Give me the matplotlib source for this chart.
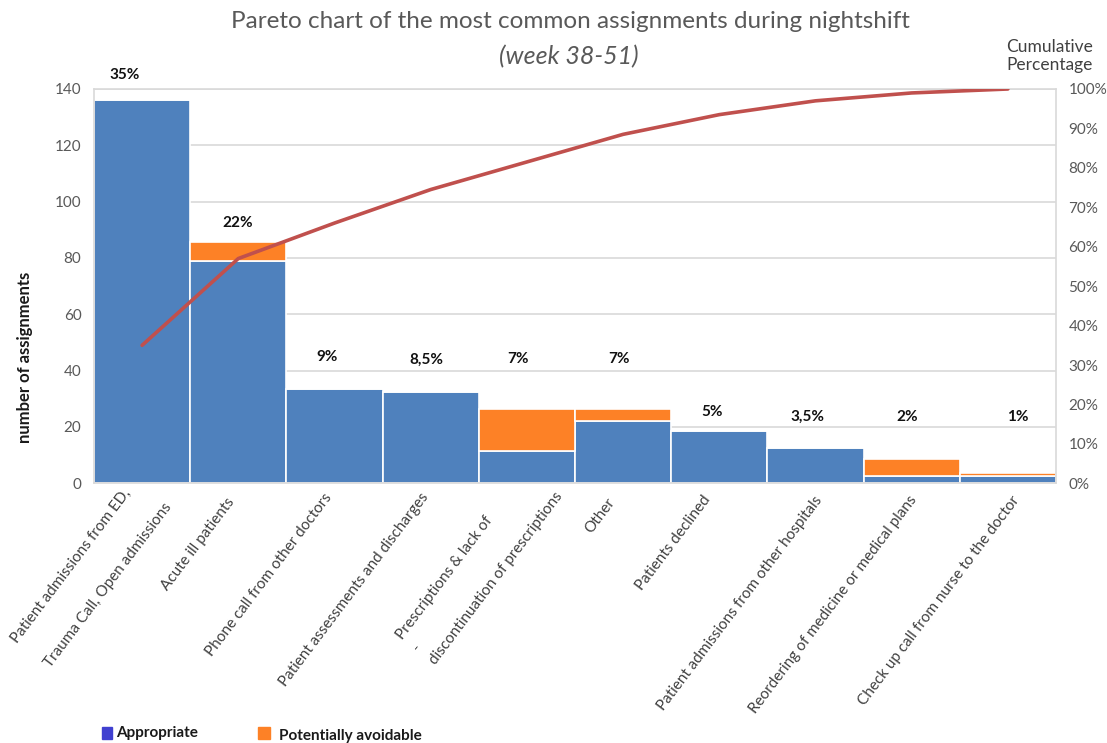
import numpy as np
import matplotlib
matplotlib.use("Agg")
import matplotlib.pyplot as plt
from matplotlib.patches import Rectangle

plt.rcParams['font.family'] = ['Lato', 'DejaVu Sans']

# data
categories = [
    "Patient admissions from ED,\n\nTrauma Call, Open admissions",
    "Acute ill patients",
    "Phone call from other doctors",
    "Patient assessments and discharges",
    "Prescriptions & lack of\n-\ndiscontinuation of prescriptions",
    "Other",
    "Patients declined",
    "Patient admissions from other hospitals",
    "Reordering of medicine or medical plans",
    "Check up call from nurse to the doctor",
]
appropriate = [136, 79, 33.5, 32.5, 11.5, 22, 18.5, 12.5, 2.5, 2.5]
avoidable = [0, 6.5, 0, 0, 15, 4.5, 0, 0, 6, 1]
cumulative = [35, 57, 66, 74.5, 81.5, 88.5, 93.5, 97, 99, 100]
pct_labels = ["35%", "22%", "9%", "8,5%", "7%", "7%", "5%", "3,5%", "2%", "1%"]

# layout helpers (label placement, pixels)
pct_label_y = [145, 92.5, 45, 44, 44, 44, 25.3, 23.6, 23.6, 23.6]
pct_label_dx = [-17, -1, -7, -4, -9, -4, -7, -8, -5, 10]
tick_offsets = [(10, 9), (-7, 16), (-5, 12), (-5, 11), (16, -2),
                (-11, 16), (-12, 14), (4, 14), (2, 14), (9, 14)]

blue = '#4F81BD'
orange = '#FD8126'
red = '#C0504D'
grid_c = '#D9D9D9'
tick_c = '#595959'

fig = plt.figure(figsize=(11.07, 7.43), dpi=100)
ax = fig.add_axes([94 / 1107, 1 - 483.3 / 743, 962 / 1107, 394.3 / 743])

x = np.arange(len(categories))
ax.bar(x, appropriate, width=1.0, color=blue, edgecolor='white', linewidth=1.2, zorder=2)
ax.bar(x, avoidable, width=1.0, bottom=appropriate, color=orange, edgecolor='white',
       linewidth=1.2, zorder=2)

ax.set_xlim(-0.5, len(categories) - 0.5)
ax.set_ylim(0, 140)
ax.set_yticks(range(0, 141, 20))
ax.yaxis.grid(True, color=grid_c, linewidth=1.2)
ax.set_axisbelow(True)
for s in ax.spines.values():
    s.set_color(grid_c)
    s.set_linewidth(1.2)
ax.tick_params(axis='y', length=0, pad=9, labelsize=11, labelcolor=tick_c)
ax.set_xticks([])
ax.set_ylabel("number of assignments", fontsize=12, fontweight='bold', color='#1a1a1a')
ax.yaxis.set_label_coords(-0.063, 0.32)

# category labels
for i, (lab, off) in enumerate(zip(categories, tick_offsets)):
    ax.annotate(lab, xy=(i, 0), xytext=(off[0] * 0.72, -off[1] * 0.72),
                textcoords='offset points', ha='right', va='center',
                rotation=53, rotation_mode='anchor', multialignment='left',
                linespacing=1.6, fontsize=11, color='#404040', annotation_clip=False)

# percentage labels
for i, (lab, yv, dx) in enumerate(zip(pct_labels, pct_label_y, pct_label_dx)):
    ax.annotate(lab, xy=(i, yv), xytext=(dx * 0.72, 0), textcoords='offset points',
                ha='center', va='center', fontsize=11, fontweight='bold',
                color='#111111', annotation_clip=False)

ax2 = ax.twinx()
ax2.plot(x, cumulative, color=red, linewidth=2.6, solid_capstyle='round', zorder=5)
ax2.set_ylim(0, 100)
ax2.set_yticks(range(0, 101, 10))
ax2.set_yticklabels([f"{v}%" for v in range(0, 101, 10)])
ax2.tick_params(axis='y', length=0, pad=9, labelsize=11, labelcolor=tick_c)
for s in ax2.spines.values():
    s.set_visible(False)

fig.text(570 / 1107, 1 - 22 / 743, "Pareto chart of the most common assignments during nightshift",
         ha='center', va='center', fontsize=17.5, color=tick_c)
fig.text(569 / 1107, 1 - 57 / 743, "(week 38-51)", ha='center', va='center',
         fontsize=18, color=tick_c, style='italic')
fig.text(1050 / 1107, 1 - 56 / 743, "Cumulative\nPercentage", ha='center', va='center',
         fontsize=12.5, color='#404040', linespacing=1.2)

# legend drawn at the bottom left
fig.patches.append(Rectangle((102 / 1107, 1 - 739 / 743), 10 / 1107, 12 / 743,
                             transform=fig.transFigure, color='#4040D0'))
fig.text(116 / 1107, 1 - 733 / 743, "Appropriate", ha='left', va='center',
         fontsize=11, fontweight='bold', color='#1a1a1a')
fig.patches.append(Rectangle((258 / 1107, 1 - 739 / 743), 12 / 1107, 12 / 743,
                             transform=fig.transFigure, color=orange))
fig.text(279 / 1107, 1 - 736 / 743, "Potentially avoidable", ha='left', va='center',
         fontsize=11, fontweight='bold', color='#1a1a1a')

fig.savefig("out.png", dpi=100)
